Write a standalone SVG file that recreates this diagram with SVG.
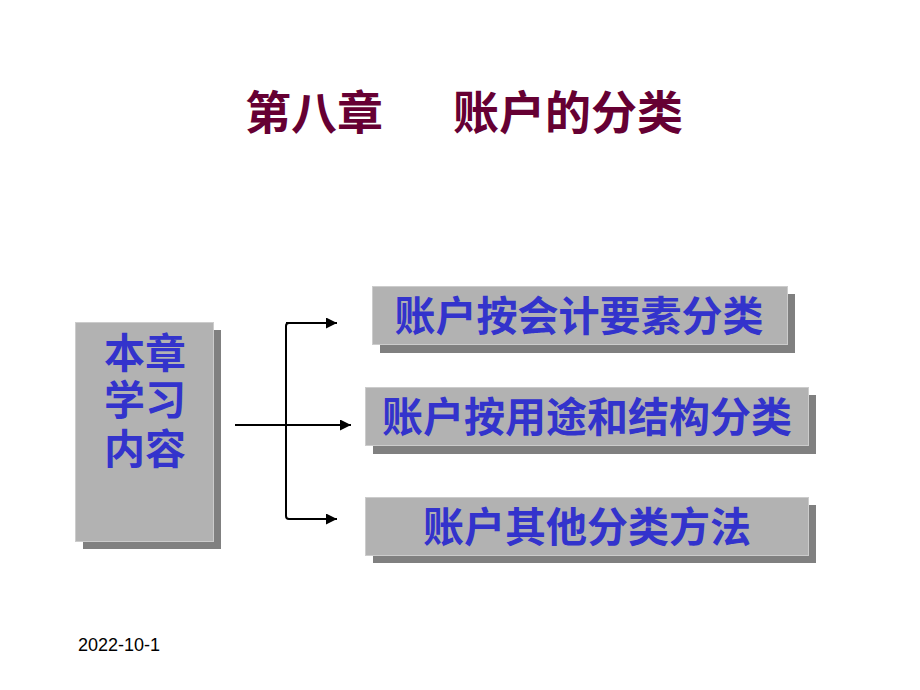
<svg xmlns="http://www.w3.org/2000/svg" width="920" height="690" viewBox="0 0 920 690">
<defs>
<style>
.box{fill:#b2b2b2;stroke:#cccccc;stroke-width:1}
.shadow{fill:#808080}
.lbl{font-family:"Liberation Sans","Noto Sans CJK SC",sans-serif;font-weight:bold;font-size:41px;fill:#3333cc;text-anchor:middle}
.title{font-family:"Liberation Sans","Noto Sans CJK SC",sans-serif;font-weight:bold;font-size:46px;fill:#660033}
.conn{fill:none;stroke:#000;stroke-width:2}
</style>
<marker id="arr" viewBox="0 0 10 10" refX="10" refY="5" markerWidth="11" markerHeight="11" markerUnits="userSpaceOnUse" orient="auto">
<path d="M0,0 L10,5 L0,10 z" fill="#000"/>
</marker>
</defs>
<rect width="920" height="690" fill="#fff"/>
<g id="title">
<text class="title" y="129"><tspan x="245">第八章</tspan><tspan x="453">账户的分类</tspan></text>
</g>
<g id="node-main">
<rect class="shadow" x="83" y="330" width="138" height="219"/>
<rect class="box" x="75.5" y="322.5" width="138" height="219"/>
<text class="lbl" x="145" y="368">本章</text>
<text class="lbl" x="145" y="415">学习</text>
<text class="lbl" x="145" y="464">内容</text>
</g>
<g id="node-1">
<rect class="shadow" x="380" y="294" width="415" height="59"/>
<rect class="box" x="372.5" y="286.5" width="415" height="58"/>
<text class="lbl" x="579" y="331">账户按会计要素分类</text>
</g>
<g id="node-2">
<rect class="shadow" x="373" y="395" width="443" height="59"/>
<rect class="box" x="365.5" y="387.5" width="443" height="58"/>
<text class="lbl" x="587" y="432">账户按用途和结构分类</text>
</g>
<g id="node-3">
<rect class="shadow" x="373" y="505" width="443" height="58"/>
<rect class="box" x="365.5" y="497.5" width="443" height="58"/>
<text class="lbl" x="587" y="542">账户其他分类方法</text>
</g>
<g id="connectors">
<path class="conn" d="M337,323 L289,323 Q286,323 286,326 L286,516 Q286,519 289,519 L337,519" marker-end="url(#arr)"/>
<path class="conn" d="M286,323 L337,323" marker-end="url(#arr)"/>
<path class="conn" d="M235,425 L351,425" marker-end="url(#arr)"/>
</g>
<g id="footer">
<text x="78" y="651" font-family="Liberation Sans, sans-serif" font-size="18" fill="#000">2022-10-1</text>
</g>
</svg>
